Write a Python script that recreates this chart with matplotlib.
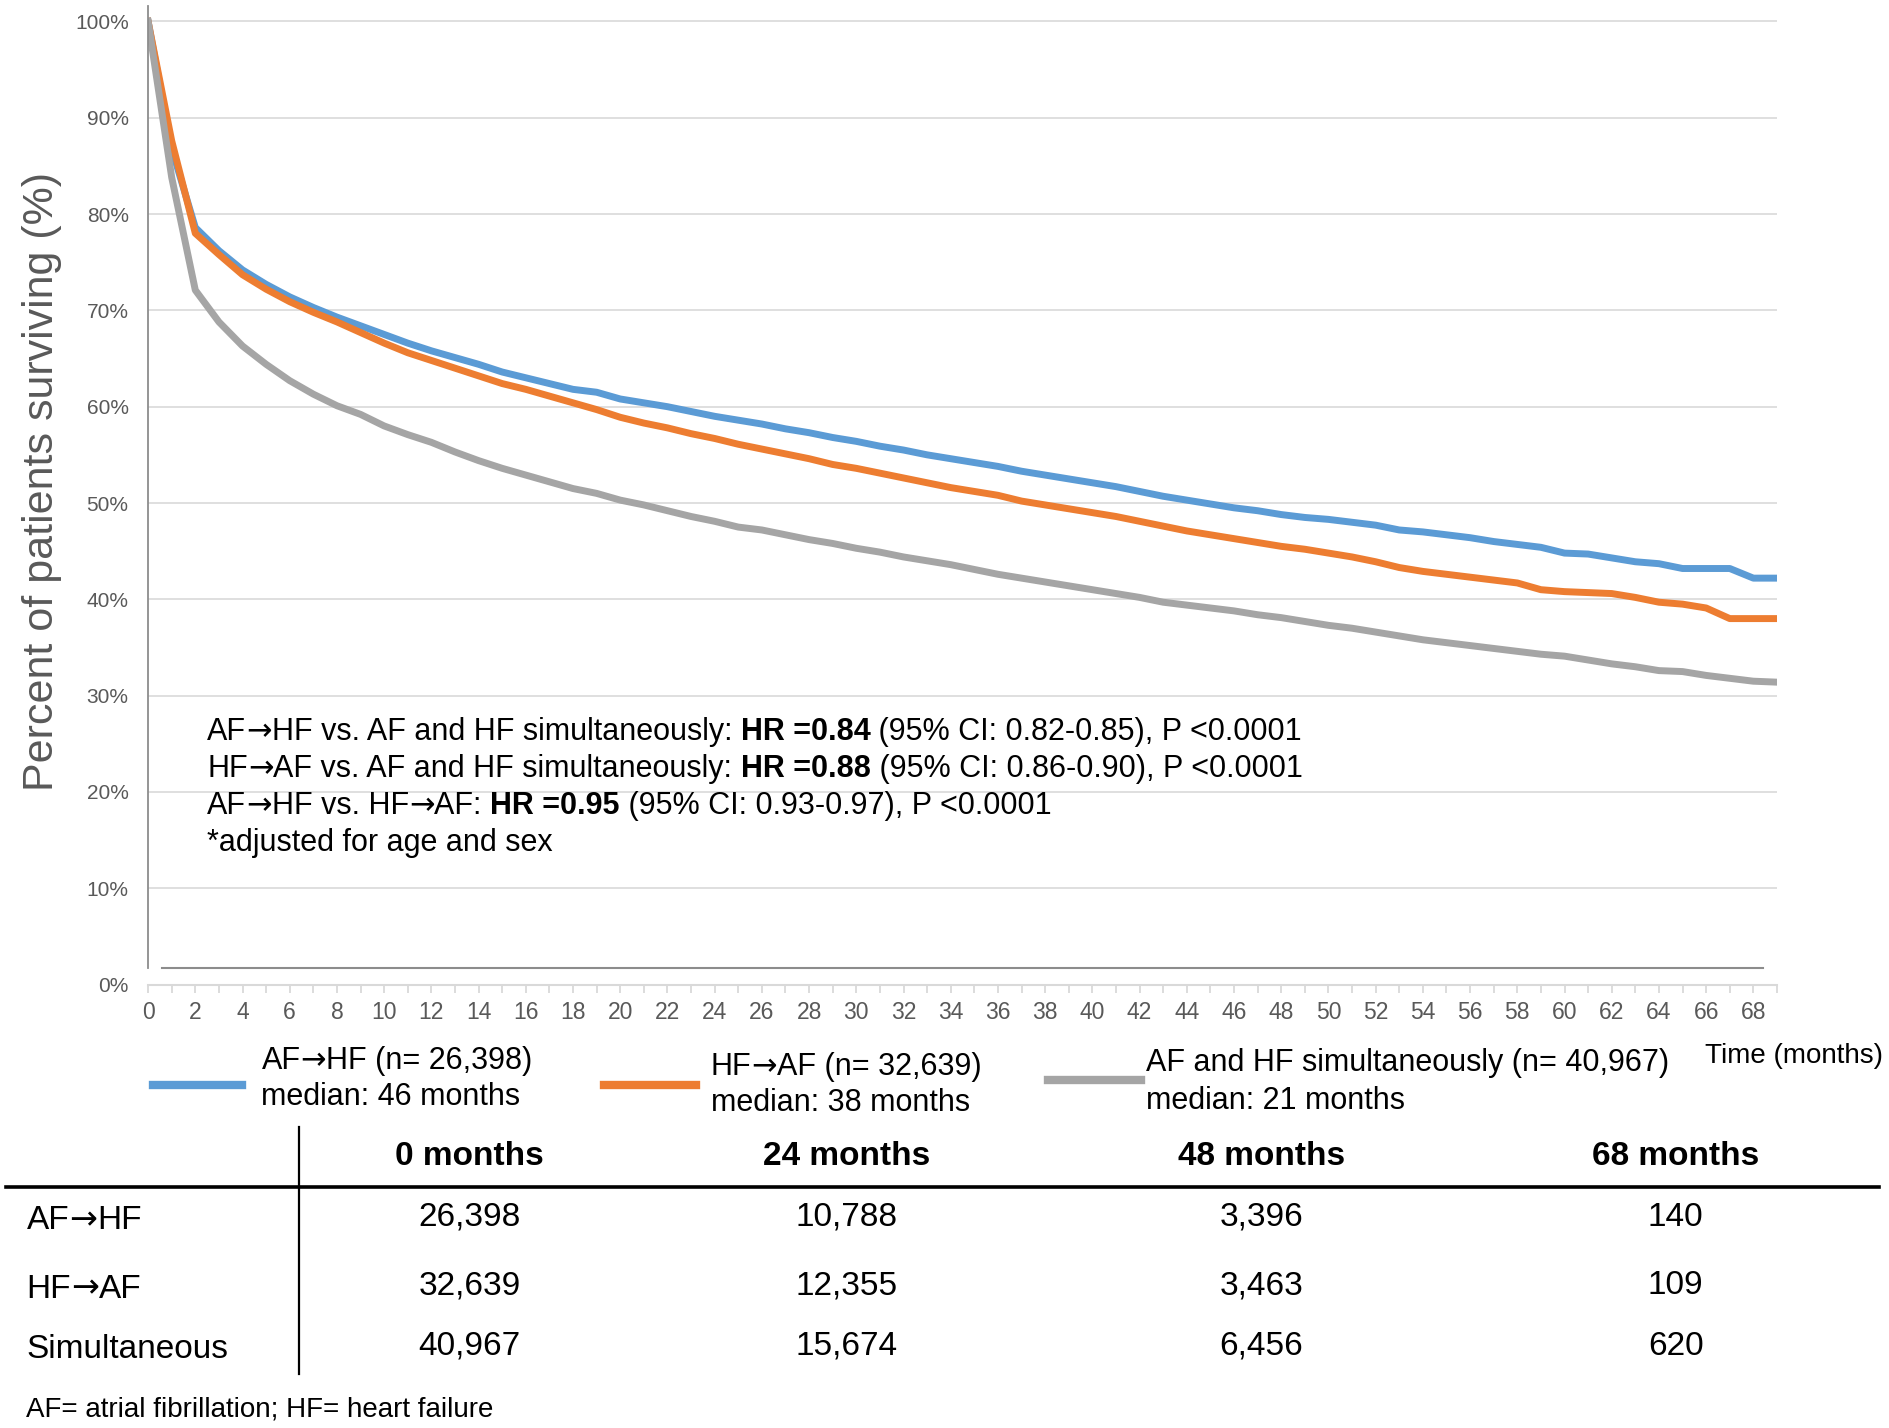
import numpy as np
import matplotlib
matplotlib.use("Agg")
import matplotlib.pyplot as plt

plt.rcParams['font.family'] = ['Liberation Sans', 'DejaVu Sans']

months = np.arange(70)

af_hf = [100, 86.8, 78.6, 76.2, 74.2, 72.7, 71.4, 70.3, 69.3, 68.4,
         67.5, 66.6, 65.8, 65.1, 64.4, 63.6, 63.0, 62.4, 61.8, 61.5,
         60.8, 60.4, 60.0, 59.5, 59.0, 58.6, 58.2, 57.7, 57.3, 56.8,
         56.4, 55.9, 55.5, 55.0, 54.6, 54.2, 53.8, 53.3, 52.9, 52.5,
         52.1, 51.7, 51.2, 50.7, 50.3, 49.9, 49.5, 49.2, 48.8, 48.5,
         48.3, 48.0, 47.7, 47.2, 47.0, 46.7, 46.4, 46.0, 45.7, 45.4,
         44.8, 44.7, 44.3, 43.9, 43.7, 43.2, 43.2, 43.2, 42.2, 42.2]

hf_af = [100, 87.6, 78.0, 75.8, 73.7, 72.2, 70.9, 69.8, 68.8, 67.7,
         66.6, 65.6, 64.8, 64.0, 63.2, 62.4, 61.8, 61.1, 60.4, 59.7,
         58.9, 58.3, 57.8, 57.2, 56.7, 56.1, 55.6, 55.1, 54.6, 54.0,
         53.6, 53.1, 52.6, 52.1, 51.6, 51.2, 50.8, 50.2, 49.8, 49.4,
         49.0, 48.6, 48.1, 47.6, 47.1, 46.7, 46.3, 45.9, 45.5, 45.2,
         44.8, 44.4, 43.9, 43.3, 42.9, 42.6, 42.3, 42.0, 41.7, 41.0,
         40.8, 40.7, 40.6, 40.2, 39.7, 39.5, 39.1, 38.0, 38.0, 38.0]

simult = [100, 83.8, 72.1, 68.8, 66.3, 64.4, 62.7, 61.3, 60.1, 59.2,
          58.0, 57.1, 56.3, 55.3, 54.4, 53.6, 52.9, 52.2, 51.5, 51.0,
          50.3, 49.8, 49.2, 48.6, 48.1, 47.5, 47.2, 46.7, 46.2, 45.8,
          45.3, 44.9, 44.4, 44.0, 43.6, 43.1, 42.6, 42.2, 41.8, 41.4,
          41.0, 40.6, 40.2, 39.7, 39.4, 39.1, 38.8, 38.4, 38.1, 37.7,
          37.3, 37.0, 36.6, 36.2, 35.8, 35.5, 35.2, 34.9, 34.6, 34.3,
          34.1, 33.7, 33.3, 33.0, 32.6, 32.5, 32.1, 31.8, 31.5, 31.4]

legend_labels = [["AF\u2192HF (n= 26,398)", "median: 46 months"],
                 ["HF\u2192AF (n= 32,639)", "median: 38 months"],
                 ["AF and HF simultaneously (n= 40,967)", "median: 21 months"]]

hr_lines = [
    [("AF\u2192HF vs. AF and HF simultaneously: ", "normal"), ("HR =0.84", "bold"),
     (" (95% CI: 0.82-0.85), P <0.0001", "normal")],
    [("HF\u2192AF vs. AF and HF simultaneously: ", "normal"), ("HR =0.88", "bold"),
     (" (95% CI: 0.86-0.90), P <0.0001", "normal")],
    [("AF\u2192HF vs. HF\u2192AF: ", "normal"), ("HR =0.95", "bold"),
     (" (95% CI: 0.93-0.97), P <0.0001", "normal")],
    [("*adjusted for age and sex", "normal")],
]

table_cols = ["0 months", "24 months", "48 months", "68 months"]
table_rows = ["AF\u2192HF", "HF\u2192AF", "Simultaneous"]
table_vals = [["26,398", "10,788", "3,396", "140"],
              ["32,639", "12,355", "3,463", "109"],
              ["40,967", "15,674", "6,456", "620"]]

colors = ["#5B9BD5", "#ED7D31", "#A5A5A5"]
series = [af_hf, hf_af, simult]

fig = plt.figure(figsize=(18.89, 14.28), dpi=100)
ax = fig.add_axes([0.0784, 0.3105, 0.8623, 0.6853])

ax.set_xlim(0, 69)
ax.set_ylim(0, 101.6)
ax.set_yticks(np.arange(0, 101, 10))
ax.set_yticklabels([f"{v}%" for v in range(0, 101, 10)])
ax.set_xticks(np.arange(0, 69, 2))
ax.set_xticks(np.arange(0, 70, 1), minor=True)
ax.grid(axis='y', color='#D9D9D9', linewidth=1.2)
ax.set_axisbelow(True)

for s in ['top', 'right']:
    ax.spines[s].set_visible(False)
ax.spines['left'].set_color('#8C8C8C')
ax.spines['left'].set_linewidth(1.3)
ax.spines['left'].set_bounds(1.75, 101.6)
ax.spines['bottom'].set_color('#D9D9D9')
ax.spines['bottom'].set_linewidth(1.5)

ax.tick_params(axis='y', length=0, pad=14, labelsize=15, labelcolor='#595959')
ax.tick_params(axis='x', which='both', length=6, width=1.3, color='#D9D9D9',
               labelsize=16.5, labelcolor='#595959', pad=6)

# darker baseline drawn by the original chart tool just above 0%
ax.plot([0.6, 68.4], [1.75, 1.75], color='#8C8C8C', linewidth=1.5)

for y, c in zip(series, colors):
    ax.plot(months, y, color=c, linewidth=5, solid_joinstyle='round')

fig.text(0.0223, 0.6625, "Percent of patients surviving (%)", rotation=90,
         ha='center', va='center', fontsize=31, color='#595959')

renderer = fig.canvas.get_renderer()
H = fig.bbox.height


def rich_line(x, yc, parts, size):
    # left-aligned text made of pieces; arrows drawn with DejaVu Sans
    base = yc - 0.5 * 0.716 * size * (100 / 72) / H
    for txt, w in parts:
        pieces = txt.split("\u2192")
        for k, p in enumerate(pieces):
            segs = [(p, 'Liberation Sans')]
            if k < len(pieces) - 1:
                segs.append(("\u2192", 'DejaVu Sans'))
            for s, fam in segs:
                if not s:
                    continue
                t = fig.text(x, base, s, fontsize=size, fontweight=w, family=fam,
                             ha='left', va='baseline')
                bb = t.get_window_extent(renderer=renderer)
                x += bb.width / fig.bbox.width


for i, parts in enumerate(hr_lines):
    rich_line(0.1097, 0.4895 - i * 0.0259, parts, 22)

# legend
sample_x = [(0.081, 0.128), (0.3195, 0.3686), (0.5548, 0.604)]
sample_y = [0.2405, 0.2405, 0.2439]
text_x = [0.1384, 0.3763, 0.6065]
text_y = [(0.259, 0.2338), (0.2549, 0.2295), (0.2574, 0.2312)]
for i in range(3):
    fig.add_artist(plt.Line2D(sample_x[i], [sample_y[i]] * 2, color=colors[i], linewidth=6))
    rich_line(text_x[i], text_y[i][0], [(legend_labels[i][0], 'normal')], 22)
    rich_line(text_x[i], text_y[i][1], [(legend_labels[i][1], 'normal')], 22)
fig.text(0.9024, 0.2608, "Time (months)", fontsize=20, va='center')

# number at risk table
col_x = [0.2487, 0.4483, 0.6677, 0.8871]
row_y = [0.1477, 0.0996, 0.0574]
for cx, name in zip(col_x, table_cols):
    fig.text(cx, 0.1899, name, fontsize=24, fontweight='bold', ha='center', va='center')
for ry, rname, vals in zip(row_y, table_rows, table_vals):
    rich_line(0.014, ry, [(rname, 'normal')], 24)
    for cx, v in zip(col_x, vals):
        fig.text(cx, ry, v, fontsize=24, ha='center', va='center')
fig.add_artist(plt.Line2D([0.0032, 0.9949], [0.1688, 0.1688], color='black', linewidth=2.6))
fig.add_artist(plt.Line2D([0.1582, 0.1582], [0.211, 0.038], color='black', linewidth=1.6))

fig.text(0.014, 0.0127, "AF= atrial fibrillation; HF= heart failure", fontsize=20, va='center')

fig.savefig("out.png", dpi=100)
